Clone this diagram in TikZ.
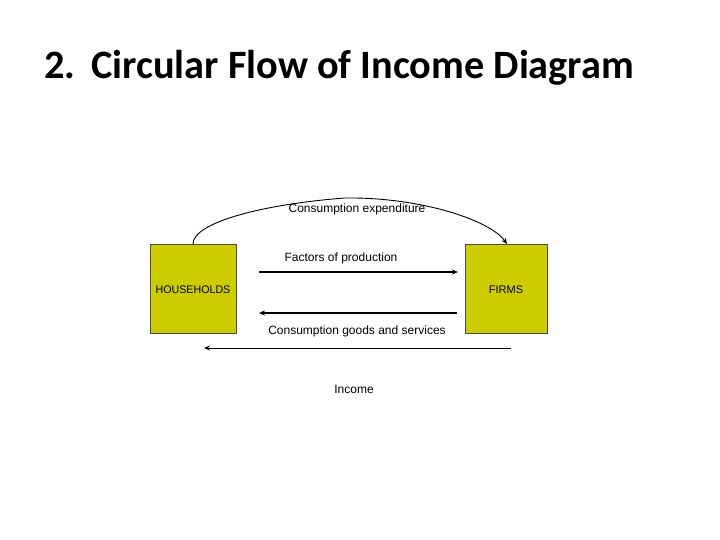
\documentclass[tikz,border=0pt]{standalone}
\usepackage{fontspec}
\setmainfont{Liberation Sans}
\newfontfamily\titlefont{Carlito}
\usetikzlibrary{arrows.meta}
\definecolor{boxfill}{HTML}{CCCC00}
\begin{document}
\begin{tikzpicture}[x=1pt,y=-1pt,
  sector/.style={draw=black!70,fill=boxfill,line width=0.6pt,inner sep=0pt,anchor=north west},
  lbl/.style={font=\fontsize{12}{14}\selectfont,inner sep=0pt},
  boxlbl/.style={font=\fontsize{11}{13}\selectfont,inner sep=0pt},
  flow/.style={line width=1.2pt,-{Stealth[length=6pt,width=5pt]}}]
\useasboundingbox (0,0) rectangle (720,540);
\node[anchor=base west,inner sep=0pt,font=\titlefont\bfseries\fontsize{40.3}{46}\selectfont] (title) at (44,79) {2.\hspace{16pt}Circular Flow of Income Diagram};
\node[sector,minimum width=86pt,minimum height=89pt] (hh) at (150,244) {};
\node[boxlbl,xscale=0.97] (hhl) at (193,290) {HOUSEHOLDS};
\node[sector,minimum width=82pt,minimum height=89pt] (firms) at (465,244) {};
\node[boxlbl] (firmsl) at (506,290) {FIRMS};
\coordinate (fpS) at (259,272);
\coordinate (fpE) at (458,272);
\draw[flow] (fpS) -- (fpE);
\node[lbl] (fpl) at (341,258) {Factors of production};
\coordinate (cgS) at (457,313);
\coordinate (cgE) at (259,313);
\draw[flow] (cgS) -- (cgE);
\node[lbl] (cgl) at (357,331) {Consumption goods and services};
\coordinate (inS) at (511,348);
\coordinate (inE) at (204,348);
\draw[flow,line width=1pt] (inS) -- (inE);
\node[lbl] (inl) at (354,389) {Income};
\coordinate (ceS) at (193,244);
\coordinate (ceE) at (507,244);
\draw[flow,line width=0.9pt] (ceS) .. controls (193,222) and (265,204) .. (345,198) .. controls (420,197) and (490,220) .. (ceE);
\node[lbl] (cel) at (357,209) {Consumption expenditure};
\end{tikzpicture}
\end{document}
